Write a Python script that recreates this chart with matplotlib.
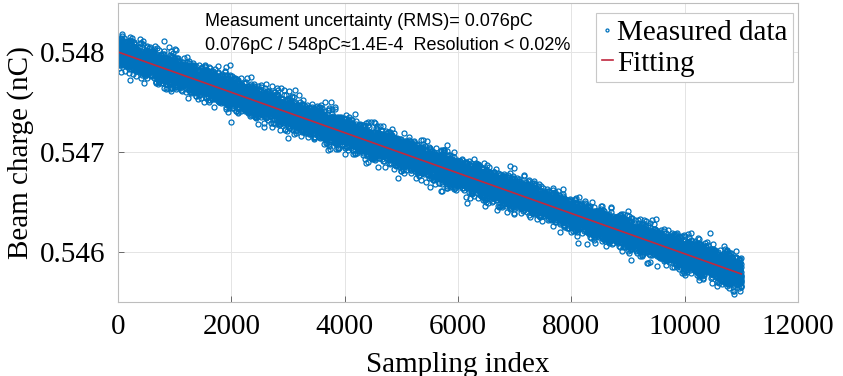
import math
import numpy as np
import matplotlib.pyplot as plt

# sampling run: 11000 readings of the beam charge
n_samples = 11000
fit_start = 0.54800      # nC, fitted value at index 0
fit_end = 0.54578        # nC, fitted value at the last index
rms_pc = 0.076           # measurement uncertainty (RMS), pC

x_ticks = [0, 2000, 4000, 6000, 8000, 10000, 12000]
y_ticks = [0.546, 0.547, 0.548]

note_lines = ['Measument uncertainty (RMS)= 0.076pC',
              '0.076pC / 548pC\u22481.4E-4  Resolution < 0.02%']


def normal_scores(n):
    # stratified normal quantiles, put in a fixed scrambled order
    p = (np.arange(n) + 0.5) / n
    lo = np.full(n, -6.0)
    hi = np.full(n, 6.0)
    cdf = np.vectorize(lambda z: 0.5 * (1 + math.erf(z / math.sqrt(2))))
    for _ in range(40):
        mid = (lo + hi) / 2
        below = cdf(mid) < p
        lo = np.where(below, mid, lo)
        hi = np.where(below, hi, mid)
    z = (lo + hi) / 2
    key = np.sin(np.arange(n) * 12.9898 + 78.233) * 43758.5453
    order = np.argsort(key - np.floor(key))
    return z[order]


idx = np.arange(n_samples)
fit = fit_start + (fit_end - fit_start) * idx / (n_samples - 1)
resid = normal_scores(n_samples)
resid = resid / np.sqrt(np.mean(resid ** 2)) * rms_pc * 1e-3
charge = fit + resid

plt.rcParams['font.family'] = ['Liberation Serif', 'DejaVu Serif']
fig = plt.figure(figsize=(8.43, 3.76), dpi=100)
ax = fig.add_axes([0.140, 0.197, 0.8066, 0.795])

ax.plot(idx, charge, 'o', ms=3.6, mfc='none', mec='#0072BD', mew=0.9,
        label='Measured data')
ax.plot(idx, fit, '-', color='#c0283e', lw=1.2, label='Fitting')

ax.set_xlim(0, 12000)
ax.set_ylim(0.5455, 0.54849)
ax.set_xticks(x_ticks)
ax.set_yticks(y_ticks)
ax.set_xticklabels([str(t) for t in x_ticks])
ax.set_yticklabels(['%.3f' % t for t in y_ticks])
ax.tick_params(direction='in', length=4, width=0.6, color='#555555',
               labelsize=21, pad=9)
ax.grid(True, color='#e4e4e4', lw=0.7)
ax.set_axisbelow(True)
for s in ax.spines.values():
    s.set_color('#bdbdbd')
    s.set_linewidth(0.8)

ax.set_xlabel('Sampling index', fontsize=21, labelpad=8)
ax.set_ylabel('Beam charge (nC)', fontsize=21, labelpad=4)

# note block, positioned in pixels from the top-left of the figure
for i, line in enumerate(note_lines):
    ax.text(205 / 100, (376 - 22 - 23 * i) / 100, line,
            transform=fig.dpi_scale_trans, fontsize=13,
            family=['Liberation Sans', 'DejaVu Sans'], va='center')

leg = ax.legend(loc='upper right', bbox_to_anchor=(0.993, 0.965), fontsize=21,
                frameon=True, fancybox=False, edgecolor='#c8c8c8',
                framealpha=1, handlelength=0.35, handletextpad=0.15,
                borderpad=0.2, labelspacing=0.15, borderaxespad=0,
                markerscale=0.6)
leg.get_frame().set_linewidth(0.8)

fig.savefig('out.png', dpi=100)
